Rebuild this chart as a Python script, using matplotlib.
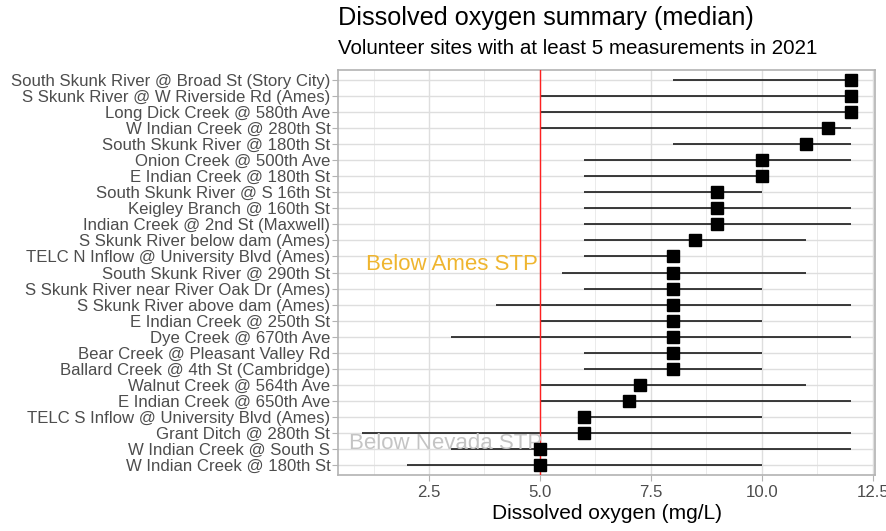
import matplotlib.pyplot as plt

SITES = [
    "South Skunk River @ Broad St (Story City)",
    "S Skunk River @ W Riverside Rd (Ames)",
    "Long Dick Creek @ 580th Ave",
    "W Indian Creek @ 280th St",
    "South Skunk River @ 180th St",
    "Onion Creek @ 500th Ave",
    "E Indian Creek @ 180th St",
    "South Skunk River @ S 16th St",
    "Keigley Branch @ 160th St",
    "Indian Creek @ 2nd St (Maxwell)",
    "S Skunk River below dam (Ames)",
    "TELC N Inflow @ University Blvd (Ames)",
    "South Skunk River @ 290th St",
    "S Skunk River near River Oak Dr (Ames)",
    "S Skunk River above dam (Ames)",
    "E Indian Creek @ 250th St",
    "Dye Creek @ 670th Ave",
    "Bear Creek @ Pleasant Valley Rd",
    "Ballard Creek @ 4th St (Cambridge)",
    "Walnut Creek @ 564th Ave",
    "E Indian Creek @ 650th Ave",
    "TELC S Inflow @ University Blvd (Ames)",
    "Grant Ditch @ 280th St",
    "W Indian Creek @ South S",
    "W Indian Creek @ 180th St",
]
DO_MIN = [8, 5, 5, 5, 8, 6, 6, 6, 6, 6, 6, 6, 5.5, 6, 4, 5, 3, 6, 6, 5, 5, 6, 1, 3, 2]
DO_MEDIAN = [12, 12, 12, 11.5, 11, 10, 10, 9, 9, 9, 8.5, 8, 8, 8, 8, 8, 8, 8, 8,
             7.25, 7, 6, 6, 5, 5]
DO_MAX = [12, 12, 12, 12, 12, 12, 10, 10, 12, 12, 11, 8, 11, 10, 12, 10, 12, 10, 10,
          11, 12, 10, 12, 12, 10]
X_TICKS = [2.5, 5.0, 7.5, 10.0, 12.5]
X_MINOR = [1.25, 3.75, 6.25, 8.75, 11.25]
STANDARD = 5

plt.rcParams["font.family"] = ["Liberation Sans", "DejaVu Sans"]

fig = plt.figure(figsize=(8.86, 5.31), dpi=100)
ax = fig.add_axes([338 / 886, 1 - 475 / 531, 537 / 886, 405 / 531])

y = list(range(len(SITES)))

# grid
for v in X_MINOR:
    ax.axvline(v, color="#EBEBEB", lw=0.7, zorder=0)
for v in X_TICKS:
    ax.axvline(v, color="#DEDEDE", lw=1.0, zorder=0)
for v in y:
    ax.axhline(v, color="#DEDEDE", lw=1.0, zorder=0)

ax.hlines(y, DO_MIN, DO_MAX, color="#1a1a1a", lw=1.2, zorder=2)
ax.axvline(STANDARD, color="#FF2020", lw=1.0, zorder=3)

ax.text(4.95, 11.53, "Below Ames STP", color="#EFB52F", fontsize=16,
        ha="right", va="center", zorder=4)
ax.text(5.05, 22.63, "Below Nevada STP", color="#C4C4C4", fontsize=16,
        ha="right", va="center", zorder=4)

ax.plot(DO_MEDIAN, y, "s", color="black", ms=8.3, zorder=5)

ax.set_xlim(0.45, 12.55)
ax.set_ylim(len(SITES) - 1 + 0.6, -0.6)
ax.set_xticks(X_TICKS)
ax.set_xticklabels(["2.5", "5.0", "7.5", "10.0", "12.5"])
ax.set_yticks(y)
ax.set_yticklabels(SITES)
ax.tick_params(axis="both", colors="#B3B3B3", labelcolor="#4D4D4D",
               labelsize=12.1, length=4, width=0.8)
ax.tick_params(axis="y", pad=1.5)
ax.tick_params(axis="x", pad=3)
for s in ax.spines.values():
    s.set_color("#B3B3B3")
    s.set_linewidth(1.2)

ax.set_xlabel("Dissolved oxygen (mg/L)", fontsize=15, color="black", labelpad=3)

fig.text(338 / 886, 1 - 18 / 531, "Dissolved oxygen summary (median)",
         fontsize=18.2, ha="left", va="center")
fig.text(338 / 886, 1 - 49 / 531,
         "Volunteer sites with at least 5 measurements in 2021",
         fontsize=14.8, ha="left", va="center")

fig.savefig("out.png", dpi=100)
